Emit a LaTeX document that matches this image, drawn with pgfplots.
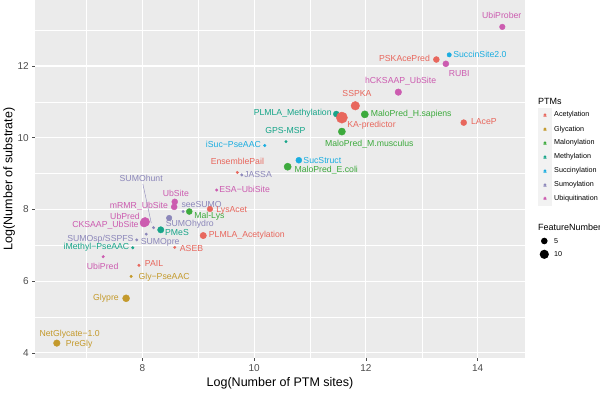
\documentclass[border=0pt]{standalone}
\usepackage{pgfplots}
\pgfplotsset{compat=1.18}
\usepackage{fontspec}
\setmainfont{Liberation Sans}
\definecolor{cAce}{HTML}{E8675D}
\definecolor{cGly}{HTML}{C49A2C}
\definecolor{cMal}{HTML}{3DAA3D}
\definecolor{cMet}{HTML}{17A589}
\definecolor{cSuc}{HTML}{1AADE0}
\definecolor{cSum}{HTML}{8C87BA}
\definecolor{cUbi}{HTML}{CC5CB0}
\definecolor{panel}{HTML}{EBEBEB}
\definecolor{tickgrey}{HTML}{4D4D4D}
\definecolor{keybg}{HTML}{F2F2F2}
\pgfplotsset{ptm/.style={only marks, scatter, mark=*, point meta={\thisrow{r}},
  visualization depends on={\thisrow{r}\as\rr},
  scatter/use mapped color={draw=#1,fill=#1},
  scatter/@pre marker code/.append style={/tikz/mark size=\rr}}}
\tikzset{lbl/.style={font=\fontsize{8.7}{10}\selectfont, inner sep=0pt, anchor=center}}
\begin{document}
\begin{tikzpicture}
\begin{axis}[
  scale only axis, width=490pt, height=358pt,
  xmin=6.08, xmax=14.846, ymin=3.855, ymax=13.84,
  xtick={8,10,12,14}, ytick={4,6,8,10,12},
  minor xtick={7,9,11,13}, minor ytick={5,7,9,11,13},
  grid=both,
  major grid style={white, line width=1.1pt},
  minor grid style={white, line width=0.55pt},
  axis background/.style={fill=panel},
  axis line style={draw=none},
  tick pos=left, tick align=outside,
  major tick length=2.75pt, minor tick length=0pt,
  tick style={color=tickgrey, line width=0.5pt},
  ticklabel style={font=\fontsize{10}{12}\selectfont, color=tickgrey},
  /pgf/number format/assume math mode=true,
  xlabel={Log(Number of PTM sites)},
  ylabel={Log(Number of substrate)},
  label style={font=\fontsize{12.5}{14}\selectfont},
  xlabel style={at={(axis description cs:0.5,-0.0698)}, anchor=center},
  ylabel style={at={(axis description cs:-0.053,0.5)}, anchor=center},
  clip=false,
]
% Methylation
\addplot[ptm=cMet] table[x=x,y=y] {
x y r
11.47 10.66 3.0
10.57 9.89 1.3
8.33 7.43 3.2
7.83 6.93 1.3
};
% Glycation
\addplot[ptm=cGly] table[x=x,y=y] {
x y r
7.80 6.13 1.3
7.71 5.52 3.5
6.47 4.27 3.3
};
% Malonylation
\addplot[ptm=cMal] table[x=x,y=y] {
x y r
11.98 10.65 3.6
11.57 10.17 3.6
10.60 9.19 3.6
8.84 7.94 3.0
};
% Succinylation
\addplot[ptm=cSuc] table[x=x,y=y] {
x y r
13.49 12.31 2.2
10.19 9.78 1.3
10.80 9.37 3.0
};
% Sumoylation
\addplot[ptm=cSum] table[x=x,y=y] {
x y r
9.78 8.96 1.3
8.73 7.94 1.3
8.48 7.76 2.8
8.20 7.49 1.3
7.90 7.15 1.3
8.07 7.31 1.3
};
% Ubiquitination
\addplot[ptm=cUbi] table[x=x,y=y] {
x y r
14.44 13.09 2.8
13.43 12.06 3.0
12.58 11.27 3.3
9.33 8.54 1.3
8.58 8.21 3.0
8.57 8.07 3.0
8.05 7.65 4.5
8.03 7.62 4.0
7.30 6.68 1.3
};
% Acetylation
\addplot[ptm=cAce] table[x=x,y=y] {
x y r
13.26 12.18 3.0
11.81 10.89 4.3
11.57 10.56 5.6
13.75 10.42 3.0
9.70 9.03 1.3
9.21 8.01 2.8
9.09 7.27 3.2
8.58 6.94 1.3
7.94 6.44 1.3
};
% labels
\draw[cSum, line width=0.4pt] (axis cs:8.01,8.71) -- (axis cs:8.16,7.62);
\node[lbl, cAce] at (axis cs:12.69,12.20) {PSKAcePred};
\node[lbl, cSuc] at (axis cs:14.04,12.33) {SuccinSite2.0};
\node[lbl, cUbi] at (axis cs:13.67,11.80) {RUBI};
\node[lbl, cUbi] at (axis cs:12.62,11.57) {hCKSAAP\_UbSite};
\node[lbl, cAce] at (axis cs:11.84,11.23) {SSPKA};
\node[lbl, cMet] at (axis cs:10.69,10.68) {PLMLA\_Methylation};
\node[lbl, cAce] at (axis cs:12.10,10.36) {KA-predictor};
\node[lbl, cMal] at (axis cs:12.81,10.66) {MaloPred\_H.sapiens};
\node[lbl, cAce] at (axis cs:14.11,10.44) {LAceP};
\node[lbl, cMet] at (axis cs:10.56,10.20) {GPS-MSP};
\node[lbl, cMal] at (axis cs:12.06,9.83) {MaloPred\_M.musculus};
\node[lbl, cSuc] at (axis cs:9.63,9.80) {iSuc−PseAAC};
\node[lbl, cSuc] at (axis cs:11.22,9.35) {SucStruct};
\node[lbl, cMal] at (axis cs:11.29,9.09) {MaloPred\_E.coli};
\node[lbl, cAce] at (axis cs:9.70,9.33) {EnsemblePail};
\node[lbl, cSum] at (axis cs:10.07,8.96) {JASSA};
\node[lbl, cUbi] at (axis cs:9.83,8.57) {ESA−UbiSite};
\node[lbl, cSum] at (axis cs:9.06,8.14) {seeSUMO};
\node[lbl, cMal] at (axis cs:9.20,7.82) {Mal-Lys};
\node[lbl, cAce] at (axis cs:9.60,7.97) {LysAcet};
\node[lbl, cUbi] at (axis cs:8.60,8.45) {UbSite};
\node[lbl, cUbi] at (axis cs:7.94,8.10) {mRMR\_UbSite};
\node[lbl, cUbi] at (axis cs:7.69,7.80) {UbPred};
\node[lbl, cUbi] at (axis cs:7.34,7.56) {CKSAAP\_UbSite};
\node[lbl, cSum] at (axis cs:7.98,8.87) {SUMOhunt};
\node[lbl, cSum] at (axis cs:8.85,7.59) {SUMOhydro};
\node[lbl, cMet] at (axis cs:8.62,7.36) {PMeS};
\node[lbl, cAce] at (axis cs:9.87,7.29) {PLMLA\_Acetylation};
\node[lbl, cSum] at (axis cs:7.25,7.18) {SUMOsp/SSPFS};
\node[lbl, cSum] at (axis cs:8.32,7.08) {SUMOpre};
\node[lbl, cAce] at (axis cs:8.88,6.91) {ASEB};
\node[lbl, cMet] at (axis cs:7.18,6.93) {iMethyl−PseAAC};
\node[lbl, cUbi] at (axis cs:7.29,6.40) {UbiPred};
\node[lbl, cAce] at (axis cs:8.21,6.50) {PAIL};
\node[lbl, cGly] at (axis cs:8.39,6.11) {Gly−PseAAC};
\node[lbl, cGly] at (axis cs:7.35,5.52) {Glypre};
\node[lbl, cGly] at (axis cs:6.70,4.52) {NetGlycate−1.0};
\node[lbl, cGly] at (axis cs:6.87,4.25) {PreGly};
\node[lbl, cUbi] at (axis cs:14.43,13.40) {UbiProber};
\end{axis}
\begin{scope}[x=1pt,y=1pt]
\node[anchor=west, inner sep=0pt, font=\fontsize{9}{10}\selectfont] at (503,256.3) {PTMs};
\foreach \yy/\cc/\tt in {243/cAce/Acetylation, 228.7/cGly/Glycation, 215/cMal/Malonylation, 201/cMet/Methylation, 187/cSuc/Succinylation, 173/cSum/Sumoylation, 159.3/cUbi/Ubiquitination}{
  \fill[keybg] (503,\yy-6.9) rectangle (517,\yy+6.9);
  \node[\cc, inner sep=0pt, font=\fontsize{6}{6}\bfseries] at (510,\yy-0.5) {a};
  \fill[\cc] (510,\yy+0.3) circle (1.3);
  \node[anchor=west, inner sep=0pt, font=\fontsize{7.2}{8}\selectfont] at (519,\yy) {\tt};
}
\node[anchor=west, inner sep=0pt, font=\fontsize{9}{10}\selectfont] at (503,130.3) {FeatureNumber};
\fill[black] (509.3,117) circle (3.3);
\fill[black] (509.3,103.7) circle (4.6);
\node[anchor=west, inner sep=0pt, font=\fontsize{7.2}{8}\selectfont] at (519,117) {5};
\node[anchor=west, inner sep=0pt, font=\fontsize{7.2}{8}\selectfont] at (519,103.7) {10};
\pgfresetboundingbox
\path[use as bounding box] (-35,-40) rectangle (565,358);
\end{scope}
\end{tikzpicture}
\end{document}
